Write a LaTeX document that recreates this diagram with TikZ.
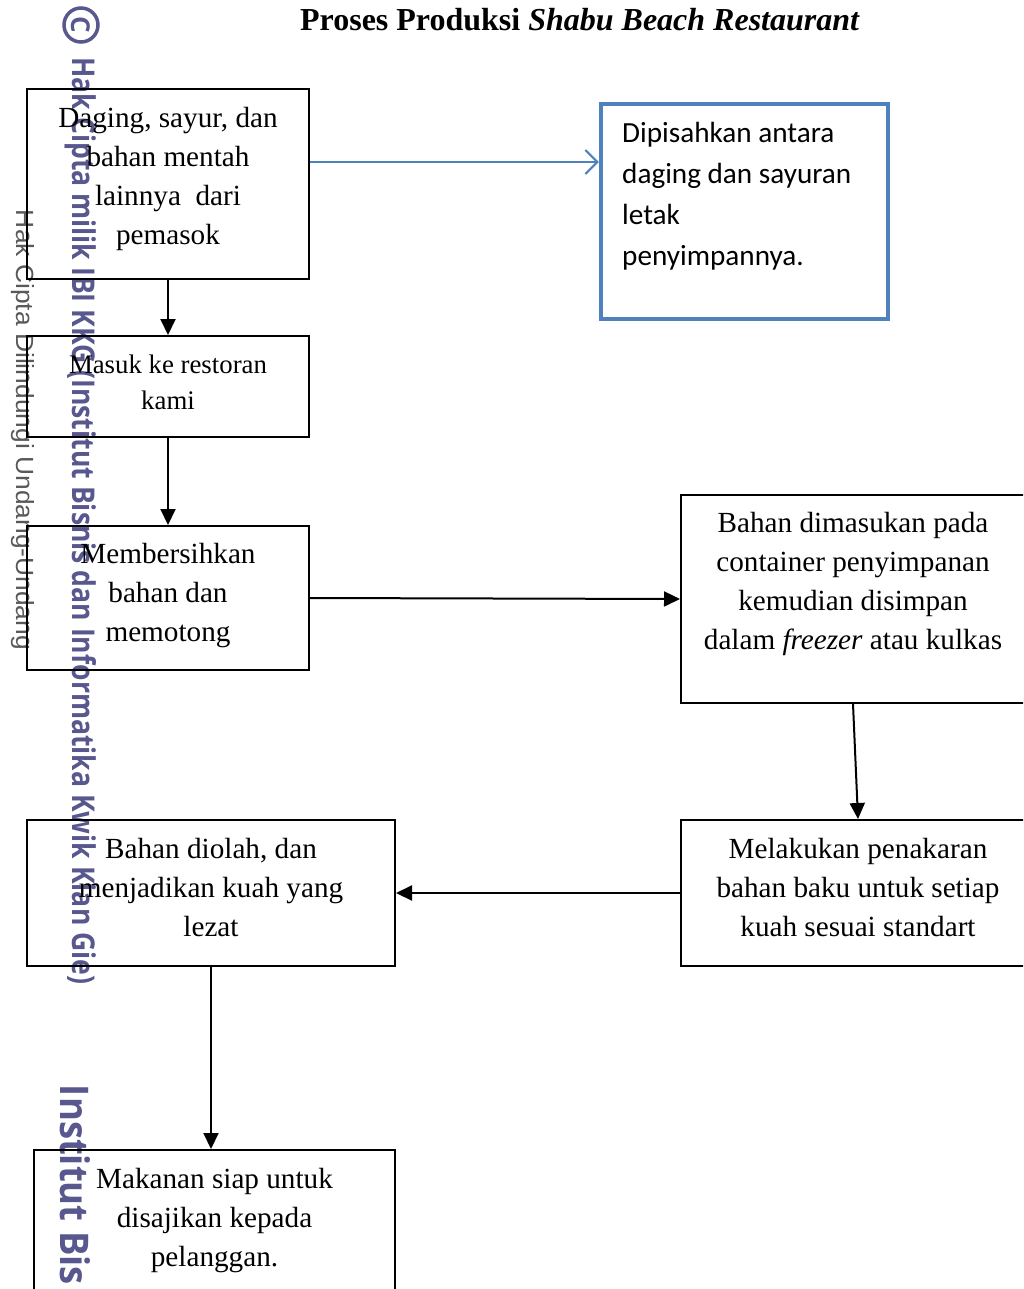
\documentclass[tikz,border=0pt]{standalone}
\usepackage{fontspec}
\setmainfont{Liberation Serif}
\newfontfamily\calibri{Carlito}
\newfontfamily\wmfont{Open Sans}
\newfontfamily\wmlight{Liberation Sans}
\usetikzlibrary{arrows.meta, positioning}
\definecolor{wmpurple}{RGB}{88,88,142}
\definecolor{boxblue}{RGB}{79,129,189}

\begin{document}
\begin{tikzpicture}[x=1pt,y=-1pt,>={Triangle[length=16pt,width=15pt]},
            box/.style={draw, line width=2pt, inner sep=0pt},
            txt/.style={align=center, inner sep=0pt, font=\fontsize{29.2}{39}\selectfont},
            flow/.style={->, line width=2pt}]
  \clip (0,0) rectangle (1023,1289);

  % watermark
  \node[text=wmpurple, draw=wmpurple, circle, line width=3.5pt, minimum size=34pt, inner sep=0pt,
        rotate=-90, font=\wmfont\bfseries\fontsize{26}{26}\selectfont] (hakc) at (81,25) {C};
  \node[rotate=-90, text=wmpurple, inner sep=0pt] (hakcipta) at (81,521)
    {\resizebox{927pt}{24pt}{\wmfont\bfseries Hak Cipta milik IBI KKG (Institut Bisnis dan Informatika Kwik Kian Gie)}};
  \node[rotate=-90, text=black!65, inner sep=0pt] (dilindungi) at (23,430)
    {\resizebox{440pt}{18pt}{\wmlight Hak Cipta Dilindungi Undang-Undang}};
  \node[rotate=-90, text=wmpurple, inner sep=0pt] (institut) at (75,1185)
    {\resizebox{200pt}{30pt}{\wmfont\bfseries Institut Bis}};

  % title
  \node[font=\fontsize{32}{38}\selectfont\bfseries] (judul) at (580,20)
    {Proses Produksi \textit{Shabu Beach Restaurant}};

  % boxes
  \node[box, minimum width=282pt, minimum height=190pt] (pasok)  at (168,184) {};
  \node[box, minimum width=282pt, minimum height=101pt] (masuk)  at (168,386.5) {};
  \node[box, minimum width=282pt, minimum height=144pt] (bersih) at (168,598) {};
  \node[box, minimum width=344pt, minimum height=208pt] (simpan) at (853,599) {};
  \node[box, minimum width=354pt, minimum height=146pt] (takar)  at (858,893) {};
  \node[box, minimum width=368pt, minimum height=146pt] (olah)   at (211,893) {};
  \node[box, minimum width=361pt, minimum height=150pt] (saji)   at (214.5,1225) {};
  \node[draw=boxblue, line width=4.5pt, inner sep=0pt, minimum width=287pt, minimum height=215pt] (pisah) at (744.5,211.5) {};

  % texts
  \node[txt] (pasoktxt)  at ([yshift=5pt]pasok.center)  {Daging, sayur, dan\\bahan mentah\\lainnya\ \ dari\\pemasok};
  \node[txt, font=\fontsize{26.8}{36}\selectfont] (masuktxt) at ([yshift=4.5pt]masuk.center) {Masuk ke restoran\\kami};
  \node[txt] (bersihtxt) at ([yshift=2pt]bersih.center) {Membersihkan\\bahan dan\\memotong};
  \node[txt] (simpantxt) at ([yshift=15pt]simpan.center) {Bahan dimasukan pada\\container penyimpanan\\kemudian disimpan\\dalam \textit{freezer} atau kulkas};
  \node[txt] (takartxt)  at ([yshift=5pt]takar.center)  {Melakukan penakaran\\bahan baku untuk setiap\\kuah sesuai standart};
  \node[txt] (olahtxt)   at ([yshift=5pt]olah.center)   {Bahan diolah, dan\\menjadikan kuah yang\\lezat};
  \node[txt] (sajitxt)   at ([yshift=4pt]saji.center)   {Makanan siap untuk\\disajikan kepada\\pelanggan.};
  \node[align=left, anchor=west, inner sep=0pt, font=\calibri\fontsize{29.2}{41}\selectfont] (pisahtxt) at (622,196)
    {Dipisahkan antara\\daging dan sayuran\\letak\\penyimpannya.};

  % connectors
  \draw[-{Straight Barb[length=12pt,width=24pt]}, draw=boxblue, line width=2pt]
    ([yshift=22pt]pasok.east) -- ([yshift=22pt]pasok.east -| pisah.west);
  \draw[flow] (pasok) -- (masuk);
  \draw[flow] (masuk) -- (bersih);
  \draw[flow] (bersih.east) -- (simpan.west);
  \draw[flow] (simpan.south) -- (takar.north);
  \draw[flow] (takar.west) -- (olah.east);
  \draw[flow] (olah.south) -- (olah.south |- saji.north);
\end{tikzpicture}
\end{document}
